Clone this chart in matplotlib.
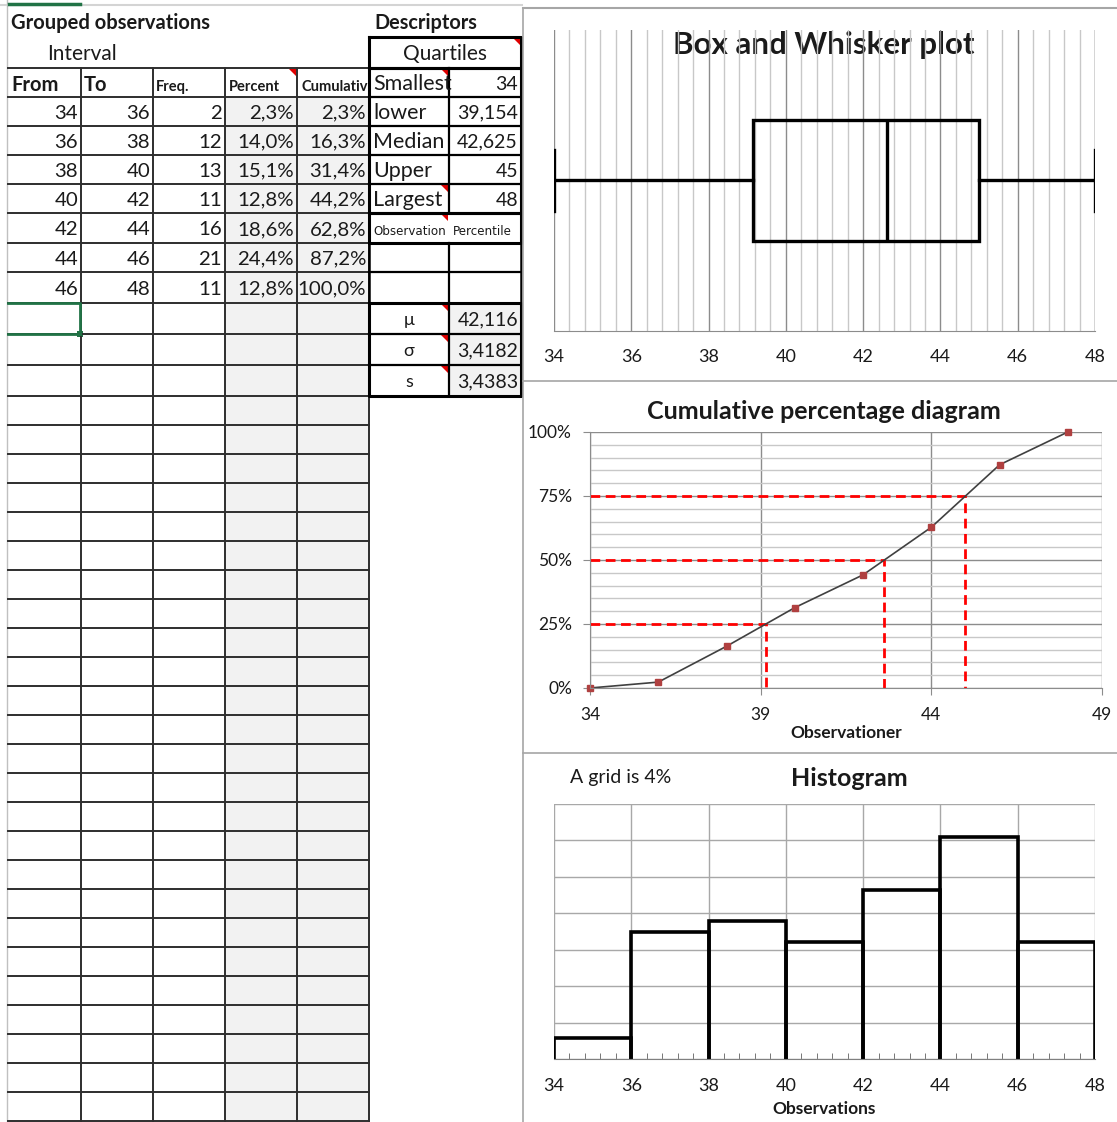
import matplotlib
matplotlib.use("Agg")
import matplotlib.pyplot as plt
from matplotlib.patches import Polygon, Rectangle
from matplotlib.transforms import Bbox, TransformedBbox

plt.rcParams['font.family'] = ['Lato', 'DejaVu Sans']

# data from the sheet
bins_from = [34, 36, 38, 40, 42, 44, 46]
bins_to = [36, 38, 40, 42, 44, 46, 48]
freq = [2, 12, 13, 11, 16, 21, 11]
percent = [2.3, 14.0, 15.1, 12.8, 18.6, 24.4, 12.8]
cumulative = [2.3, 16.3, 31.4, 44.2, 62.8, 87.2, 100.0]

quart_labels = ['Smallest', 'lower', 'Median', 'Upper', 'Largest']
quart_values = [34, 39.154, 42.625, 45, 48]
moment_labels = ['\u03bc', '\u03c3', 's']
moment_values = [42.116, 3.4182, 3.4383]

cum_x = [34] + bins_to
cum_y = [0] + cumulative
quart_pcts = [25, 50, 75]

W, H = 1117, 1122
TXT = '#1a1a1a'
GRID = '#c8c8c8'
GRID_DARK = '#8c8c8c'
DY = 1.5  # text baseline nudge inside cells


def num(v):
    return f"{v:g}".replace('.', ',')


def pct(v):
    return f"{v:.1f}%".replace('.', ',')


fig = plt.figure(figsize=(W / 100, H / 100), dpi=100)
bg = fig.add_axes([0, 0, 1, 1])
bg.set_xlim(0, W)
bg.set_ylim(H, 0)
bg.axis('off')

# ---- left table (grouped observations) ----
cols = [8, 81, 153, 225, 297, 369]
rows = [68, 97, 126, 155, 184, 213, 243, 272, 303, 334, 365, 396]
while rows[-1] + 29 <= H:
    rows.append(rows[-1] + 29)

bg.add_patch(Rectangle((225, 97), 144, H - 97, color='#f2f2f2', lw=0))
for x in cols[1:]:
    bg.plot([x, x], [68, H], color='#2e2e2e', lw=1.4)
bg.plot([7, 7], [0, H], color='#c0c0c0', lw=1)
for y in rows:
    bg.plot([8, 369], [y, y], color='#2e2e2e', lw=1.4)

bg.plot([0, 522], [5, 5], color='#d4d4d4', lw=1.5)
bg.plot([9, 80], [4, 4], color='#217346', lw=2.5)

bg.text(11, 23, 'Grouped observations', fontsize=14.5, fontweight='bold', color=TXT, va='center')
bg.text(47, 54, 'Interval', fontsize=15, color=TXT, va='center')
bg.text(11, 85, 'From', fontsize=14.5, fontweight='bold', color=TXT, va='center')
bg.text(84, 85, 'To', fontsize=14.5, fontweight='bold', color=TXT, va='center')
bg.text(156, 87, 'Freq.', fontsize=10.5, fontweight='bold', color=TXT, va='center')
bg.text(229, 87, 'Percent', fontsize=10.5, fontweight='bold', color=TXT, va='center')
t = bg.text(301, 87, 'Cumulative', fontsize=10.5, fontweight='bold', color=TXT, va='center')
t.set_clip_path(None)
t.set_clip_box(TransformedBbox(Bbox([[297, 68], [368, 97]]), bg.transData))
t.set_clip_on(True)

for i in range(len(freq)):
    yc = (rows[i + 1] + rows[i + 2]) / 2 + DY
    vals = [str(bins_from[i]), str(bins_to[i]), str(freq[i]), pct(percent[i]), pct(cumulative[i])]
    for j, s in enumerate(vals):
        bg.text(cols[j + 1] - 3, yc, s, fontsize=14.7, color=TXT, ha='right', va='center')

# green selected cell
bg.plot([8, 80, 80], [303, 303, 334], color='#217346', lw=2)
bg.plot([8, 80], [334, 334], color='#217346', lw=2)
bg.add_patch(Rectangle((77, 331), 6, 6, color='#217346', lw=0))

# ---- descriptors ----
dx0, dxm, dx1 = 369, 449, 521
bg.text(374, 23, 'Descriptors', fontsize=14.3, fontweight='bold', color=TXT, va='center')
bg.add_patch(Rectangle((dxm, 303), dx1 - dxm, 93, color='#f2f2f2', lw=0))


def box(x0, y0, x1, y1, lw=2.2):
    bg.plot([x0, x1, x1, x0, x0], [y0, y0, y1, y1, y0], color='black', lw=lw)


box(dx0, 37, dx1, 68)
bg.text((dx0 + dx1) / 2, 54, 'Quartiles', fontsize=15, color=TXT, ha='center', va='center')
box(dx0, 68, dx1, 213)
bg.plot([dxm, dxm], [68, 213], color='black', lw=1.6)
for k in range(len(quart_labels)):
    y0, y1 = rows[k], rows[k + 1]
    if k > 0:
        bg.plot([dx0, dx1], [y0, y0], color='black', lw=1.6)
    yc = (y0 + y1) / 2 + DY
    bg.text(373, yc, quart_labels[k], fontsize=15.5, color=TXT, va='center')
    bg.text(518, yc, num(quart_values[k]), fontsize=14, color=TXT, ha='right', va='center')

box(dx0, 213, dx1, 243)
bg.text(373, 231, 'Observation', fontsize=8.6, family='DejaVu Sans', color=TXT, va='center')
bg.text(453, 231, 'Percentile', fontsize=8.6, family='DejaVu Sans', color=TXT, va='center')
box(dx0, 243, dx1, 303, lw=1.8)
bg.plot([dx0, dx1], [272, 272], color='black', lw=1.6)
bg.plot([dxm, dxm], [243, 303], color='black', lw=1.6)

box(dx0, 303, dx1, 396)
bg.plot([dxm, dxm], [303, 396], color='black', lw=1.6)
for k in range(len(moment_labels)):
    y0, y1 = rows[8 + k], rows[9 + k]
    if k > 0:
        bg.plot([dx0, dx1], [y0, y0], color='black', lw=1.6)
    yc = (y0 + y1) / 2 + DY
    bg.text((dx0 + dxm) / 2, yc, moment_labels[k], fontsize=13, color=TXT, ha='center', va='center')
    bg.text(518, yc, num(moment_values[k]), fontsize=14, color=TXT, ha='right', va='center')

# comment markers
for (cx, cy) in [(297, 68), (521, 37), (449, 68), (449, 184), (449, 213), (449, 303), (449, 334), (449, 365)]:
    bg.add_patch(Polygon([(cx - 8, cy + 1), (cx - 1, cy + 1), (cx - 1, cy + 8)], color='#e00000', lw=0))

# ---- chart panel frame ----
bg.plot([523, 523], [8, H], color='#a6a6a6', lw=1.2)
bg.plot([523, W], [8, 8], color='#a6a6a6', lw=1.5)
bg.plot([523, W], [381, 381], color='#a6a6a6', lw=1.2)
bg.plot([523, W], [753, 753], color='#a6a6a6', lw=1.2)


def px_axes(x0, y0, x1, y1):
    return fig.add_axes([x0 / W, 1 - y1 / H, (x1 - x0) / W, (y1 - y0) / H])


# ---- box and whisker ----
ax1 = px_axes(554, 30, 1095, 331)
ax1.set_xlim(34, 48)
ax1.set_ylim(0, 1)
for i in range(36):
    xv = 34 + i * 0.4
    ax1.axvline(xv, color=GRID_DARK if i % 5 == 0 else GRID, lw=1, zorder=0)
ax1.axvline(48, color=GRID_DARK, lw=1, zorder=0)
stats = [{'med': quart_values[2], 'q1': quart_values[1], 'q3': quart_values[3],
          'whislo': quart_values[0], 'whishi': quart_values[4], 'fliers': []}]
bp_style = dict(color='black', lw=2.4)
ax1.bxp(stats, positions=[0.5], widths=0.4, capwidths=0.2, orientation='horizontal',
        showfliers=False, patch_artist=True,
        boxprops=dict(facecolor='none', edgecolor='black', lw=2.4),
        whiskerprops=bp_style, capprops=bp_style, medianprops=bp_style)
ax1.set_ylim(0, 1)
ax1.set_xticks(range(34, 49, 2))
ax1.set_yticks([])
ax1.tick_params(axis='x', length=0, labelsize=13, pad=13, colors=TXT)
for s in ['top', 'left', 'right']:
    ax1.spines[s].set_visible(False)
ax1.spines['bottom'].set_color(GRID_DARK)
ax1.set_facecolor('none')
bg.text(824, 45, 'Box and Whisker plot', fontsize=22.5, fontweight='bold', color=TXT, ha='center', va='center')

# ---- cumulative percentage ----
ax2 = px_axes(590, 432, 1102, 688)
ax2.set_xlim(34, 49)
ax2.set_ylim(0, 100)
ax2.set_xticks([34, 39, 44, 49])
ax2.set_yticks([0, 25, 50, 75, 100])
ax2.set_yticklabels([f"{v}%" for v in [0, 25, 50, 75, 100]])
ax2.set_yticks(range(0, 101, 5), minor=True)
ax2.grid(which='major', color=GRID_DARK, lw=1)
ax2.grid(which='minor', axis='y', color=GRID, lw=1)
ax2.set_axisbelow(True)
ax2.tick_params(which='major', length=5, color=GRID_DARK, labelsize=12.5, colors=TXT)
ax2.tick_params(axis='y', which='major', pad=8)
ax2.tick_params(axis='x', which='major', pad=9)
ax2.tick_params(which='minor', length=0)
for s in ['top', 'right']:
    ax2.spines[s].set_visible(False)
for s in ['left', 'bottom']:
    ax2.spines[s].set_color(GRID_DARK)
for q, p in zip(quart_values[1:4], quart_pcts):
    ax2.plot([34, q, q], [p, p, 0], color='#ff0000', lw=2, dashes=(3.5, 2))
ax2.plot(cum_x, cum_y, color='#404040', lw=1.2, marker='s', ms=4,
         mfc='#b04040', mec='#b04040', clip_on=False)
ax2.set_xlabel('Observationer', fontsize=12.5, fontweight='bold', color=TXT, labelpad=1)
bg.text(824, 411, 'Cumulative percentage diagram', fontsize=18, fontweight='bold', color=TXT,
        ha='center', va='center')

# ---- histogram ----
ax3 = px_axes(554, 804, 1095, 1059)
ax3.set_xlim(34, 48)
ax3.set_ylim(0, 28)
ax3.set_xticks(range(34, 49, 2))
ax3.set_yticks(range(0, 29, 4))
ax3.set_xticks([34 + i * 0.4 for i in range(36)], minor=True)
ax3.grid(which='major', color='#a8a8a8', lw=1)
ax3.set_axisbelow(True)
ax3.tick_params(axis='x', which='major', length=0, labelsize=13, pad=14, colors=TXT)
ax3.tick_params(axis='x', which='minor', direction='in', length=4, color='#606060')
ax3.tick_params(axis='y', length=0, labelleft=False)
for s in ['top', 'right', 'left']:
    ax3.spines[s].set_visible(False)
ax3.spines['bottom'].set_color('#808080')
for a, b, p in zip(bins_from, bins_to, percent):
    ax3.plot([a, a, b, b], [0, p, p, 0], color='black', lw=2.6, solid_joinstyle='miter')
ax3.set_xlabel('Observations', fontsize=12.5, fontweight='bold', color=TXT, labelpad=5)
bg.text(570, 777, 'A grid is 4%', fontsize=14, color=TXT, va='center')
bg.text(849, 778, 'Histogram', fontsize=18, fontweight='bold', color=TXT, ha='center', va='center')

fig.savefig('out.png', dpi=100)
